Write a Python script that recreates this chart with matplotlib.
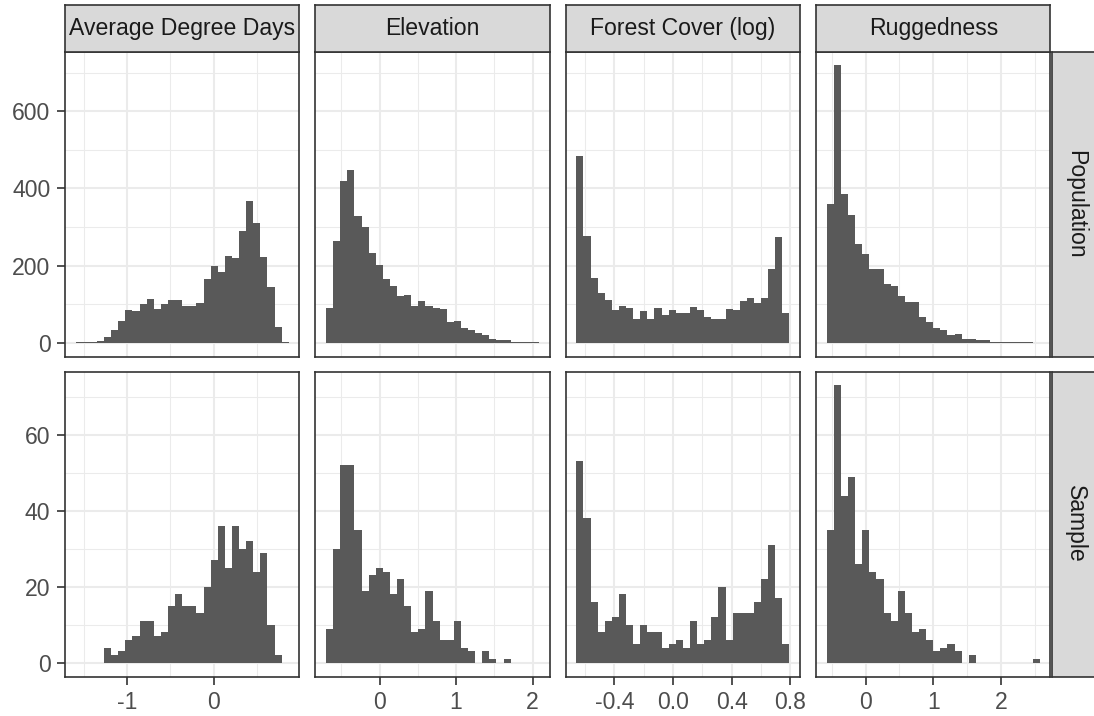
import numpy as np
import matplotlib
matplotlib.use("Agg")
import matplotlib.pyplot as plt

plt.rcParams['font.family'] = ['Liberation Sans', 'DejaVu Sans']
plt.rcParams['axes.unicode_minus'] = False

# facet labels
variables = ['Average Degree Days', 'Elevation', 'Forest Cover (log)', 'Ruggedness']
groups = ['Population', 'Sample']

# histogram range per variable (30 bins, shared between rows)
bin_lo = [-1.592, -0.700, -0.660, -0.574]
bin_hi = [0.863, 2.086, 0.793, 2.574]
n_bins = 30

# counts
pop_add = [2, 2, 3, 4, 14, 33, 57, 84, 82, 100, 113, 87, 100, 111, 110, 95, 95, 104,
           164, 199, 184, 224, 221, 290, 367, 310, 222, 144, 41, 2]
samp_add = [0, 0, 0, 0, 4, 2, 3, 6, 7, 11, 11, 7, 8, 15, 18, 15, 15, 13,
            20, 27, 36, 25, 36, 30, 32, 24, 29, 10, 2, 0]

pop_elev = [91, 263, 419, 448, 328, 299, 232, 201, 165, 147, 120, 123, 96, 109, 95,
            91, 87, 53, 56, 37, 32, 25, 21, 11, 6, 6, 2, 3, 2, 2]
samp_elev = [9, 30, 52, 52, 35, 19, 23, 25, 24, 18, 22, 15, 8, 9, 19,
             11, 6, 6, 11, 4, 3, 0, 3, 1, 0, 1, 0, 0, 0, 0]

pop_forest = [483, 277, 169, 128, 110, 85, 95, 90, 62, 82, 61, 90, 71, 86, 76,
              76, 93, 84, 68, 62, 62, 87, 84, 107, 117, 102, 117, 190, 274, 77]
samp_forest = [53, 38, 16, 8, 11, 12, 18, 10, 5, 10, 8, 8, 4, 5, 6,
               4, 11, 5, 6, 12, 20, 6, 13, 13, 13, 16, 22, 31, 17, 5]

pop_rugged = [359, 719, 385, 330, 257, 231, 190, 190, 152, 146, 120, 106, 105, 68, 54,
              38, 34, 20, 22, 10, 9, 8, 6, 2, 3, 3, 3, 2, 2, 0]
samp_rugged = [35, 73, 44, 49, 26, 35, 24, 22, 13, 11, 19, 13, 8, 9, 6,
               3, 4, 5, 3, 0, 2, 0, 0, 0, 0, 0, 0, 0, 0, 1]

counts = [[pop_add, pop_elev, pop_forest, pop_rugged],
          [samp_add, samp_elev, samp_forest, samp_rugged]]

# axis breaks
x_major = [[-1, 0], [0, 1, 2], [-0.4, 0.0, 0.4, 0.8], [0, 1, 2]]
x_labels = [['-1', '0'], ['0', '1', '2'], ['-0.4', '0.0', '0.4', '0.8'], ['0', '1', '2']]
x_minor = [[-1.5, -0.5, 0.5], [-0.5, 0.5, 1.5], [-0.6, -0.2, 0.2, 0.6], [-0.5, 0.5, 1.5, 2.5]]
y_major = [[0, 200, 400, 600], [0, 20, 40, 60]]
y_minor = [[100, 300, 500, 700], [10, 30, 50, 70]]

bar_col = '#595959'
grid_col = '#EBEBEB'
border_col = '#333333'
strip_fill = '#D9D9D9'
fs = 16.6

fig, axes = plt.subplots(2, 4, figsize=(10.94, 7.16), dpi=100)
fig.subplots_adjust(left=0.0594, right=0.9602, bottom=0.055, top=0.928,
                    wspace=0.068, hspace=0.049)

for r in range(2):
    ymax = max(max(c) for c in counts[r])
    for c in range(4):
        ax = axes[r, c]
        edges = np.linspace(bin_lo[c], bin_hi[c], n_bins + 1)
        ax.bar(edges[:-1], counts[r][c], width=np.diff(edges), align='edge',
               color=bar_col, linewidth=0)
        span = bin_hi[c] - bin_lo[c]
        ax.set_xlim(bin_lo[c] - 0.05 * span, bin_hi[c] + 0.05 * span)
        ax.set_ylim(-0.05 * ymax, 1.05 * ymax)

        ax.set_xticks(x_major[c])
        ax.set_xticks(x_minor[c], minor=True)
        ax.set_yticks(y_major[r])
        ax.set_yticks(y_minor[r], minor=True)
        ax.grid(True, which='major', color=grid_col, linewidth=1.5)
        ax.grid(True, which='minor', color=grid_col, linewidth=0.75)
        ax.set_axisbelow(True)

        for s in ax.spines.values():
            s.set_color(border_col)
            s.set_linewidth(1.2)

        ax.tick_params(which='minor', length=0)
        ax.tick_params(which='major', color=border_col, width=1.2, length=5.5,
                       labelsize=fs, labelcolor='#4D4D4D', pad=5)
        if r == 1:
            ax.set_xticklabels(x_labels[c])
        else:
            ax.tick_params(axis='x', length=0, labelbottom=False)
        if c == 0:
            ax.set_yticklabels([str(v) for v in y_major[r]])
        else:
            ax.tick_params(axis='y', length=0, labelleft=False)

# strips
fig_w, fig_h = fig.get_size_inches() * fig.dpi
strip_px = 47
for c in range(4):
    pos = axes[0, c].get_position()
    sax = fig.add_axes([pos.x0, pos.y1, pos.width, strip_px / fig_h])
    sax.set_facecolor(strip_fill)
    sax.set_xticks([])
    sax.set_yticks([])
    for s in sax.spines.values():
        s.set_color(border_col)
        s.set_linewidth(1.2)
    sax.text(0.5, 0.5, variables[c], ha='center', va='center', fontsize=fs,
             color='#1A1A1A', transform=sax.transAxes)

for r in range(2):
    pos = axes[r, 3].get_position()
    sax = fig.add_axes([pos.x1 + 2 / fig_w, pos.y0, strip_px / fig_w, pos.height])
    sax.set_facecolor(strip_fill)
    sax.set_xticks([])
    sax.set_yticks([])
    for s in sax.spines.values():
        s.set_color(border_col)
        s.set_linewidth(1.2)
    sax.text(0.5, 0.5, groups[r], ha='center', va='center', fontsize=fs,
             color='#1A1A1A', rotation=-90, transform=sax.transAxes)

fig.savefig('out.png', dpi=100)
